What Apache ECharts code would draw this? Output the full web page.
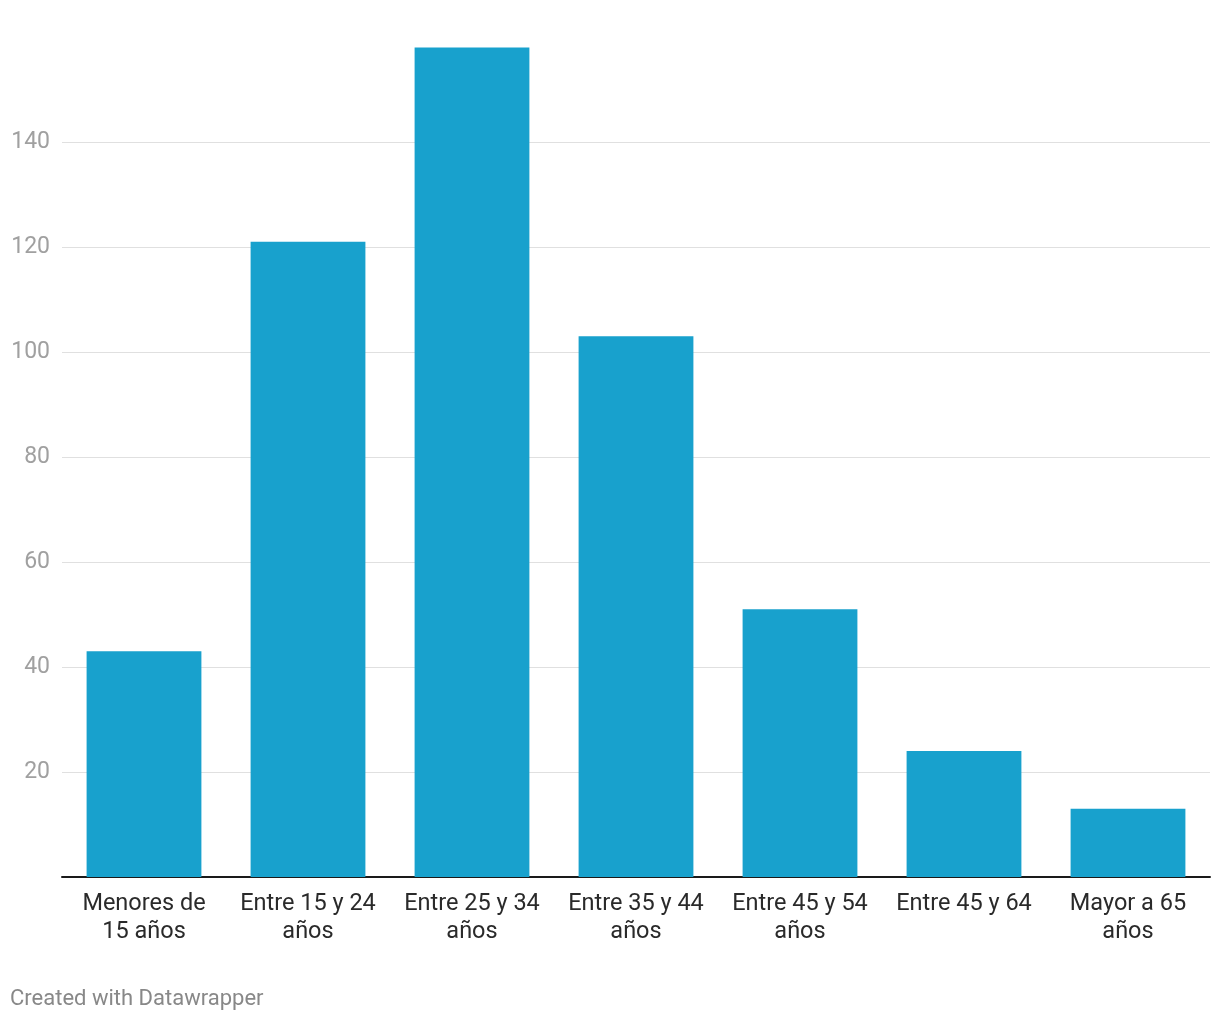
<!DOCTYPE html>
<html>
<head>
<meta charset="utf-8">
<script src="https://cdn.jsdelivr.net/npm/echarts@6/dist/echarts.min.js"></script>
<style>
html,body{margin:0;padding:0;background:#fff;}
#chart{width:1220px;height:1020px;}
</style>
</head>
<body>
<div id="chart"></div>
<script>
const categories = ["Menores de\n15 años", "Entre 15 y 24\naños", "Entre 25 y 34\naños", "Entre 35 y 44\naños", "Entre 45 y 54\naños", "Entre 45 y 64", "Mayor a 65\naños"];
const values = [43, 121, 158, 103, 51, 24, 13];
const footerText = "Created with Datawrapper";

const chart = echarts.init(document.getElementById('chart'), null, {renderer: 'canvas'});
chart.setOption({
  backgroundColor: '#ffffff',
  animation: false,
  textStyle: {fontFamily: 'Roboto'},
  grid: {left: 62, right: 10, top: 37, bottom: 143, containLabel: false},
  graphic: [{
    type: 'text', left: 10, top: 988,
    style: {text: footerText, fill: '#888888', font: '22px Roboto'}
  }],
  xAxis: {
    type: 'category',
    data: categories,
    axisLine: {show: true, lineStyle: {color: '#1a1a1a', width: 2}},
    axisTick: {show: false},
    axisLabel: {color: '#2a2a2a', fontSize: 23.5, lineHeight: 28, margin: 13, interval: 0, fontFamily: 'Roboto'},
    splitLine: {show: false}
  },
  yAxis: {
    type: 'value',
    min: 0, max: 160, interval: 20,
    axisLine: {show: false},
    axisTick: {show: false},
    axisLabel: {color: '#a0a0a0', fontSize: 23, margin: 12, padding: [4, 0, 0, 0], showMinLabel: false, showMaxLabel: false, fontFamily: 'Roboto'},
    splitLine: {show: true, showMinLine: false, showMaxLine: false, lineStyle: {color: '#e0e0e0', width: 1}}
  },
  series: [{
    type: 'bar',
    data: values,
    barCategoryGap: '30%',
    itemStyle: {color: '#18a1cd'}
  }]
});
</script>
</body>
</html>
